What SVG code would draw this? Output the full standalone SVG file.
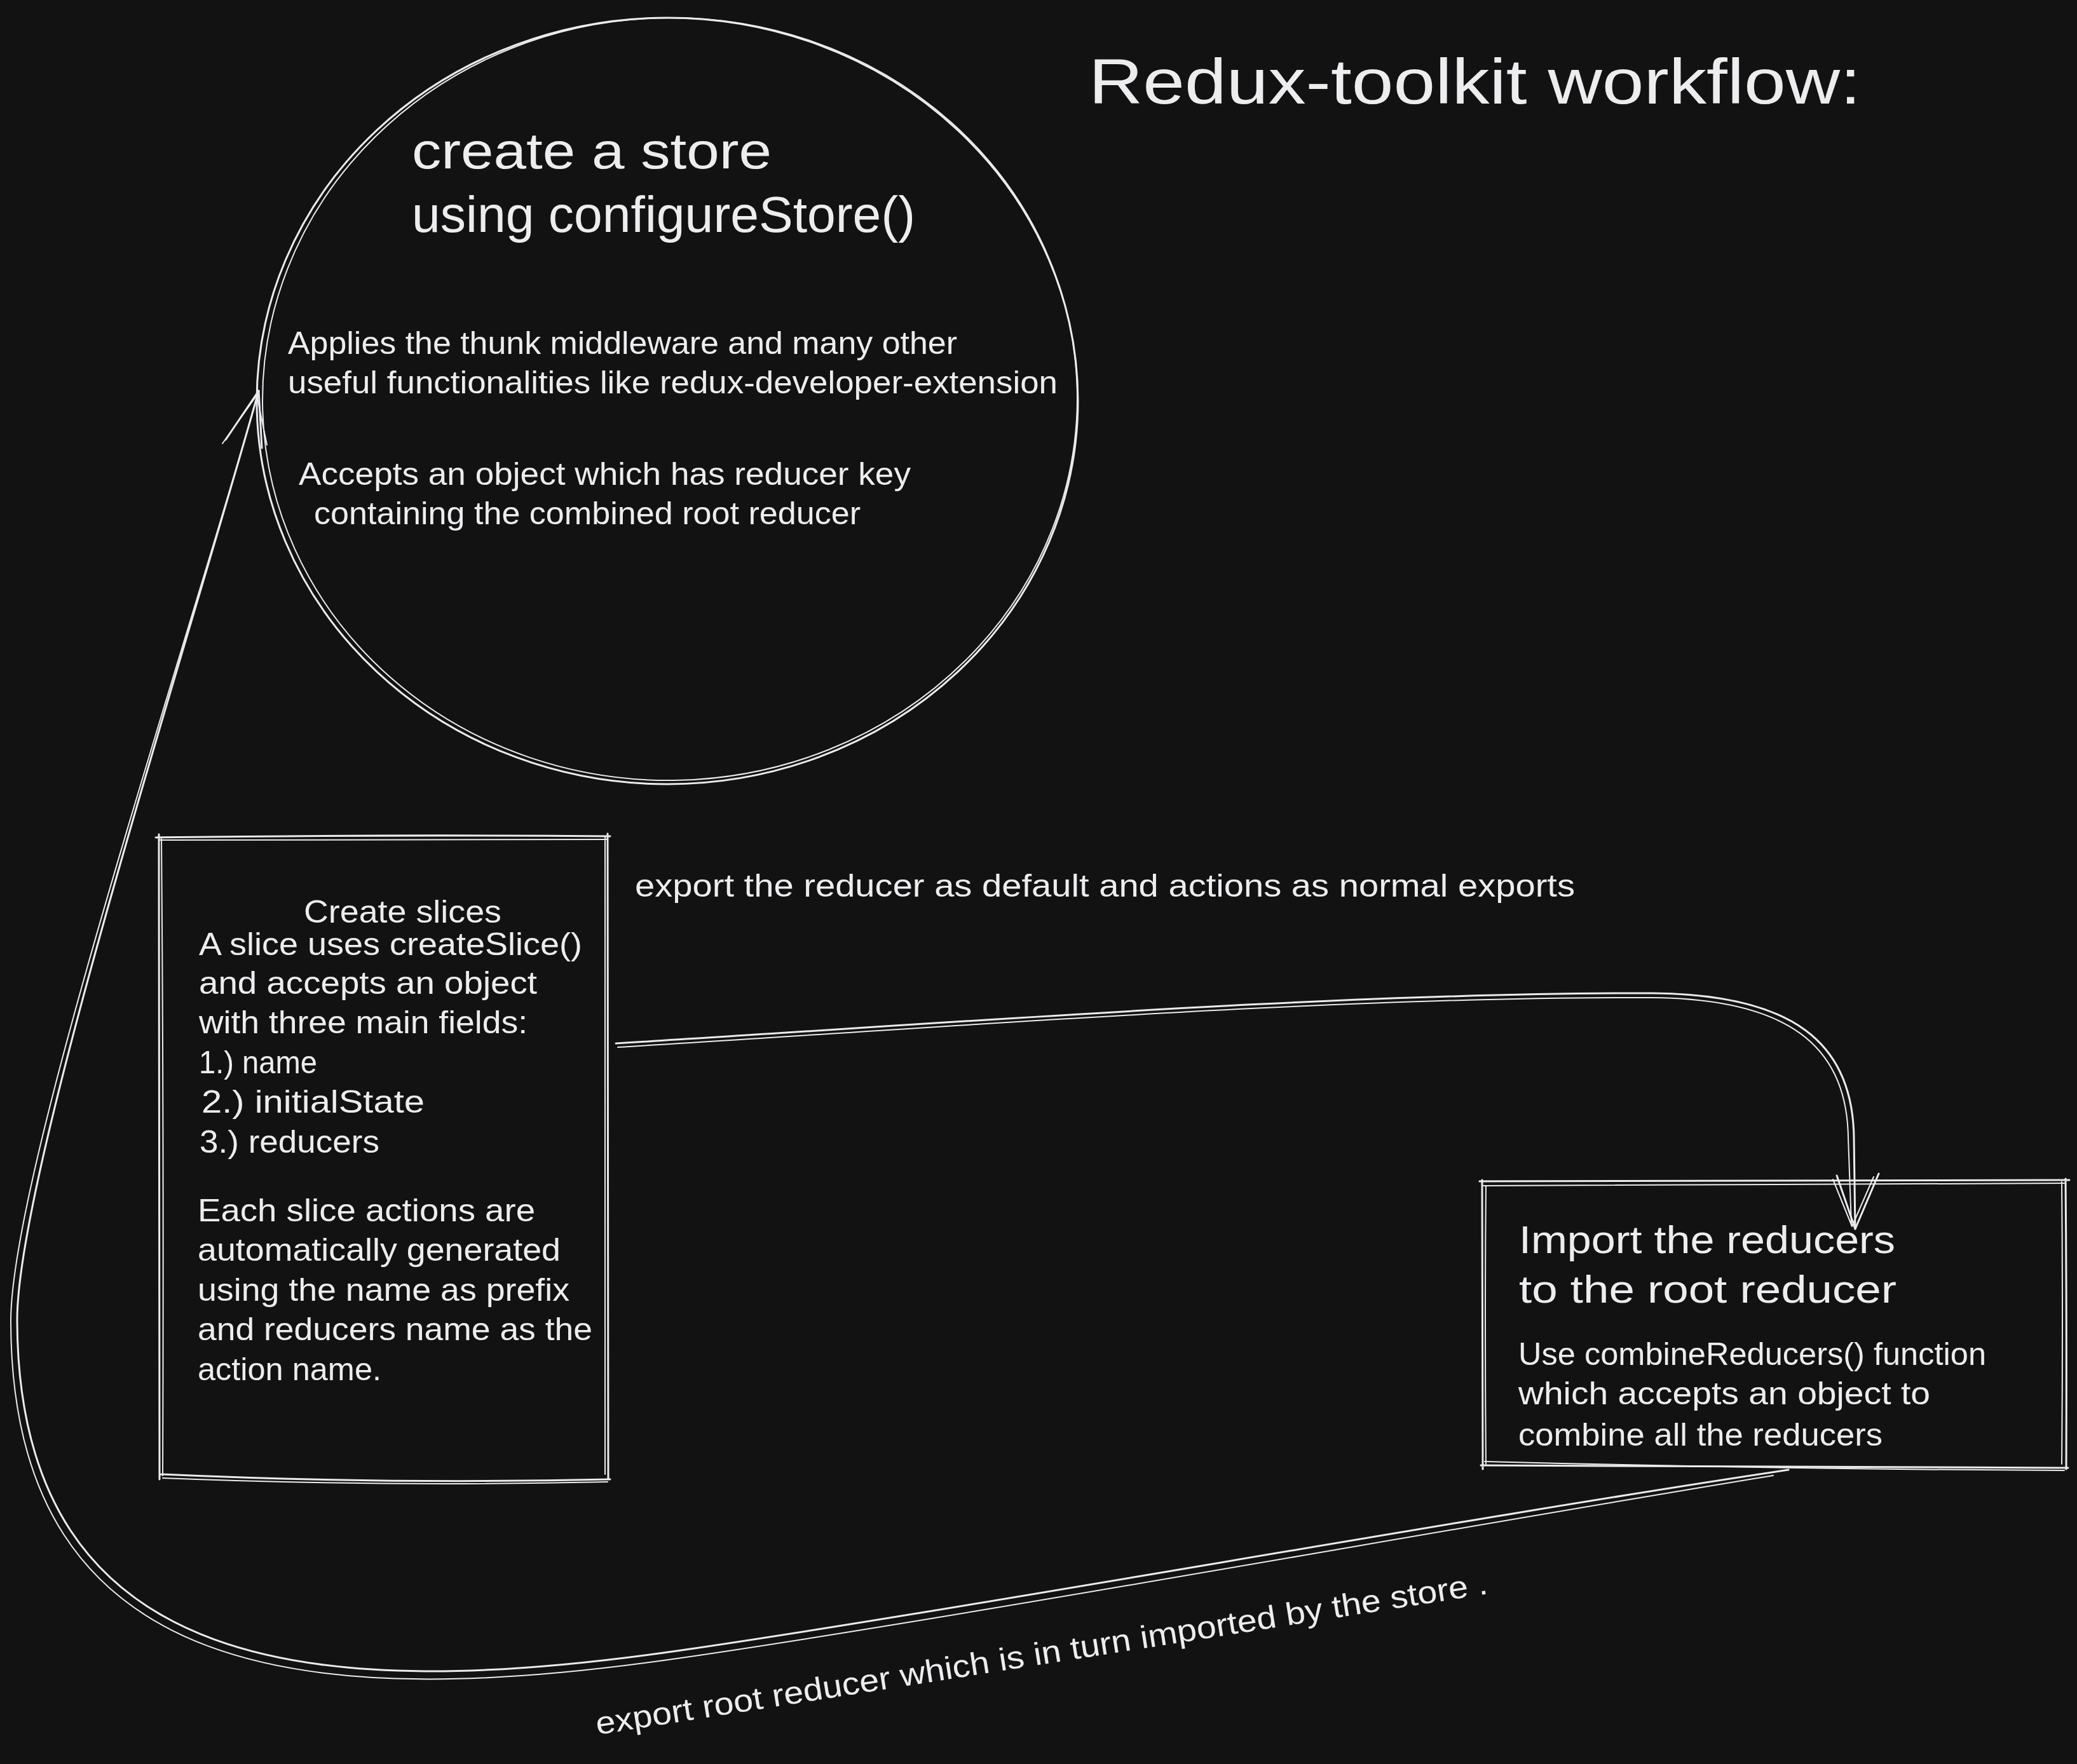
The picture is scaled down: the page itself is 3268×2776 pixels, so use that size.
<svg xmlns="http://www.w3.org/2000/svg" width="3268" height="2776" viewBox="0 0 3268 2776">
<style>
.bg{fill:#121212}
.s{fill:none;stroke:#ebebef;stroke-width:3;stroke-linecap:round;stroke-linejoin:round}
.s2{fill:none;stroke:#ebebef;stroke-width:2;stroke-linecap:round;stroke-linejoin:round}
text{fill:#ededf0;font-family:"Liberation Sans","DejaVu Sans",sans-serif}
.t1{font-size:100px}
.t2{font-size:80px}
.t3{font-size:62px}
.b{font-size:50px}
.lab{font-size:50px}
</style>
<rect class="bg" x="0" y="0" width="3268" height="2776"/>

<g id="title">
<text class="t1" x="1713" y="163" textLength="1215" lengthAdjust="spacingAndGlyphs">Redux-toolkit workflow:</text>
</g>

<g id="node-store">
<ellipse class="s" cx="1050" cy="631" rx="646" ry="603"/>
<ellipse class="s2" cx="1054" cy="628" rx="641" ry="600" transform="rotate(-1.5 1054 628)"/>
<text class="t2" x="648" y="265" textLength="566" lengthAdjust="spacingAndGlyphs">create a store</text>
<text class="t2" x="648" y="365" textLength="792" lengthAdjust="spacingAndGlyphs">using configureStore()</text>
<text class="b" x="453" y="557" textLength="1053" lengthAdjust="spacingAndGlyphs">Applies the thunk middleware and many other</text>
<text class="b" x="453" y="619" textLength="1211" lengthAdjust="spacingAndGlyphs">useful functionalities like redux-developer-extension</text>
<text class="b" x="470" y="763" textLength="963" lengthAdjust="spacingAndGlyphs">Accepts an object which has reducer key</text>
<text class="b" x="494" y="825" textLength="860" lengthAdjust="spacingAndGlyphs">containing the combined root reducer</text>
</g>

<g id="node-slices">
<path class="s" d="M 245 1318 Q 600 1313 960 1316 M 956 1312 Q 958 1820 957 2327 M 960 2328 Q 600 2336 252 2320 M 251 2328 Q 249 1800 250 1313"/>
<path class="s2" d="M 250 1322 Q 600 1320 955 1321 M 952 1316 Q 950 1820 952 2320 M 956 2332 Q 600 2340 256 2326 M 256 2322 Q 258 1800 254 1320"/>
<text class="b" x="478" y="1452" textLength="311" lengthAdjust="spacingAndGlyphs">Create slices</text>
<text class="b" x="313" y="1503" textLength="603" lengthAdjust="spacingAndGlyphs">A slice uses createSlice()</text>
<text class="b" x="313" y="1564" textLength="532" lengthAdjust="spacingAndGlyphs">and accepts an object</text>
<text class="b" x="313" y="1626" textLength="517" lengthAdjust="spacingAndGlyphs">with three main fields:</text>
<text class="b" x="313" y="1689" textLength="186" lengthAdjust="spacingAndGlyphs">1.) name</text>
<text class="b" x="317" y="1751" textLength="351" lengthAdjust="spacingAndGlyphs">2.) initialState</text>
<text class="b" x="314" y="1814" textLength="283" lengthAdjust="spacingAndGlyphs">3.) reducers</text>
<text class="b" x="311" y="1922" textLength="531" lengthAdjust="spacingAndGlyphs">Each slice actions are</text>
<text class="b" x="311" y="1984" textLength="571" lengthAdjust="spacingAndGlyphs">automatically generated</text>
<text class="b" x="311" y="2047" textLength="585" lengthAdjust="spacingAndGlyphs">using the name as prefix</text>
<text class="b" x="311" y="2109" textLength="621" lengthAdjust="spacingAndGlyphs">and reducers name as the</text>
<text class="b" x="311" y="2172" textLength="289" lengthAdjust="spacingAndGlyphs">action name.</text>
</g>

<g id="node-import">
<path class="s" d="M 2328 1859 Q 2800 1856 3256 1857 M 3250 1855 Q 3252 2080 3251 2312 M 3254 2310 Q 2800 2306 2330 2306 M 2333 2312 Q 2333 2080 2332 1857"/>
<path class="s2" d="M 2334 1866 Q 2800 1866 3248 1862 M 3244 1860 Q 3246 2080 3244 2304 M 3248 2314 Q 2800 2312 2336 2300 M 2338 2304 Q 2336 2080 2338 1866"/>
<text class="t3" x="2390" y="1972" textLength="592" lengthAdjust="spacingAndGlyphs">Import the reducers</text>
<text class="t3" x="2390" y="2050" textLength="594" lengthAdjust="spacingAndGlyphs">to the root reducer</text>
<text class="b" x="2389" y="2148" textLength="736" lengthAdjust="spacingAndGlyphs">Use combineReducers() function</text>
<text class="b" x="2389" y="2210" textLength="648" lengthAdjust="spacingAndGlyphs">which accepts an object to</text>
<text class="b" x="2389" y="2275" textLength="573" lengthAdjust="spacingAndGlyphs">combine all the reducers</text>
</g>

<g id="connectors">
<g id="edge-slices-import">
<path class="s" d="M 969 1642 C 1500 1610 2100 1562 2600 1563 C 2820 1565 2915 1640 2917 1790 L 2919 1934"/>
<path class="s2" d="M 972 1648 C 1500 1616 2100 1568 2600 1570 C 2812 1572 2906 1645 2908 1790 L 2913 1928"/>
<path class="s" d="M 2890 1850 L 2919 1934 L 2956 1847"/>
<path class="s2" d="M 2884 1856 L 2914 1930 L 2948 1852"/>
<text class="lab" x="999" y="1411" textLength="1479" lengthAdjust="spacingAndGlyphs">export the reducer as default and actions as normal exports</text>
</g>
<g id="edge-import-store">
<path class="s" d="M 2814 2313 C 2300 2390 1500 2535 1072 2597 C 500 2680 30 2640 27 2080 C 25 1850 300 1000 407 615"/>
<path class="s2" d="M 2790 2322 C 2300 2402 1500 2547 1072 2609 C 490 2694 18 2650 17 2080 C 16 1850 292 1020 400 640"/>
<path class="s" d="M 355 692 L 407 615 L 412 705"/>
<path class="s2" d="M 350 698 L 404 622 L 420 700"/>
<text class="lab" x="940" y="2730" transform="rotate(-9 940 2730)" textLength="1420" lengthAdjust="spacingAndGlyphs">export root reducer which is in turn imported by the store .</text>
</g>
</g>
</svg>
